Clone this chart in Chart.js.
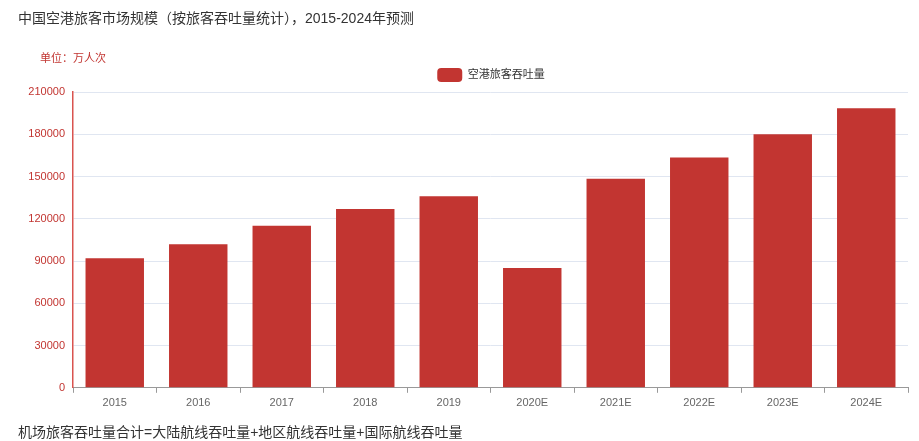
<!DOCTYPE html>
<html><head><meta charset="utf-8">
<script src="https://cdn.jsdelivr.net/npm/chart.js@4/dist/chart.umd.min.js"></script>
<style>
html,body{margin:0;padding:0;background:#fff;width:919px;height:441px;overflow:hidden;font-family:"Liberation Sans","Noto Sans CJK SC",sans-serif;}
#wrap{position:relative;width:919px;height:441px;}
canvas{position:absolute;left:0;top:0;}
.t{position:absolute;white-space:nowrap;}
#title{left:18px;top:7px;font-size:14px;color:#333;}
#unit{left:40px;top:49px;font-size:11px;color:#c23531;}
#foot{left:18px;top:421px;font-size:14px;color:#333;}
</style></head>
<body><div id="wrap">
<canvas id="c" width="919" height="441"></canvas>
<div class="t" id="title">中国空港旅客市场规模（按旅客吞吐量统计），2015-2024年预测</div>
<div class="t" id="unit">单位：万人次</div>
<div class="t" id="foot">机场旅客吞吐量合计=大陆航线吞吐量+地区航线吞吐量+国际航线吞吐量</div>
</div>
<script>
const categories = ["2015","2016","2017","2018","2019","2020E","2021E","2022E","2023E","2024E"];
const seriesName = "空港旅客吞吐量";
const seriesValues = [92000,102000,115000,127000,136000,85000,148500,163500,180000,198500];
const yTicks = [0,30000,60000,90000,120000,150000,180000,210000];

const FONT = '"Liberation Sans","Noto Sans CJK SC",sans-serif';
const legendShift = {
  id: 'legendShift',
  afterLayout(chart) {
    const lg = chart.legend;
    if (lg) { lg.left += 37; lg.right += 37; }
  }
};
new Chart(document.getElementById('c'), {
  type: 'bar',
  data: { labels: categories, datasets: [{ label: seriesName, data: seriesValues, backgroundColor: '#c23531', borderColor:'#c23531', borderWidth:0, categoryPercentage: 0.7, barPercentage: 1.0 }] },
  plugins: [legendShift],
  options: {
    responsive: false, animation: false,
    layout: { padding: { left: 0, right: 11, top: 62, bottom: 27 } },
    plugins: {
      legend: { position: 'top', align: 'center',
        labels: { boxWidth: 25, boxHeight: 14, useBorderRadius: true, borderRadius: 4, color: '#333', font: { family: FONT, size: 11 }, padding: 6 } },
      tooltip: { enabled: false }
    },
    scales: {
      x: {
        grid: { display: true, offset: true, drawOnChartArea: false, drawTicks: true, tickLength: 5, color: '#999' },
        border: { display: true, color: '#999', width: 1 },
        ticks: { color: '#666', font: { family: FONT, size: 11 }, padding: 4 }
      },
      y: {
        min: 0, max: 210000,
        afterBuildTicks: s => { s.ticks = yTicks.map(v => ({ value: v })); },
        afterFit: s => { s.width = 73; },
        grid: { color: '#e0e6f1', drawTicks: false },
        border: { display: true, color: '#d9534f', width: 1.5 },
        ticks: { color: '#c23531', font: { family: FONT, size: 11 }, padding: 8, callback: v => String(v) }
      }
    }
  }
});
</script>
</body></html>
